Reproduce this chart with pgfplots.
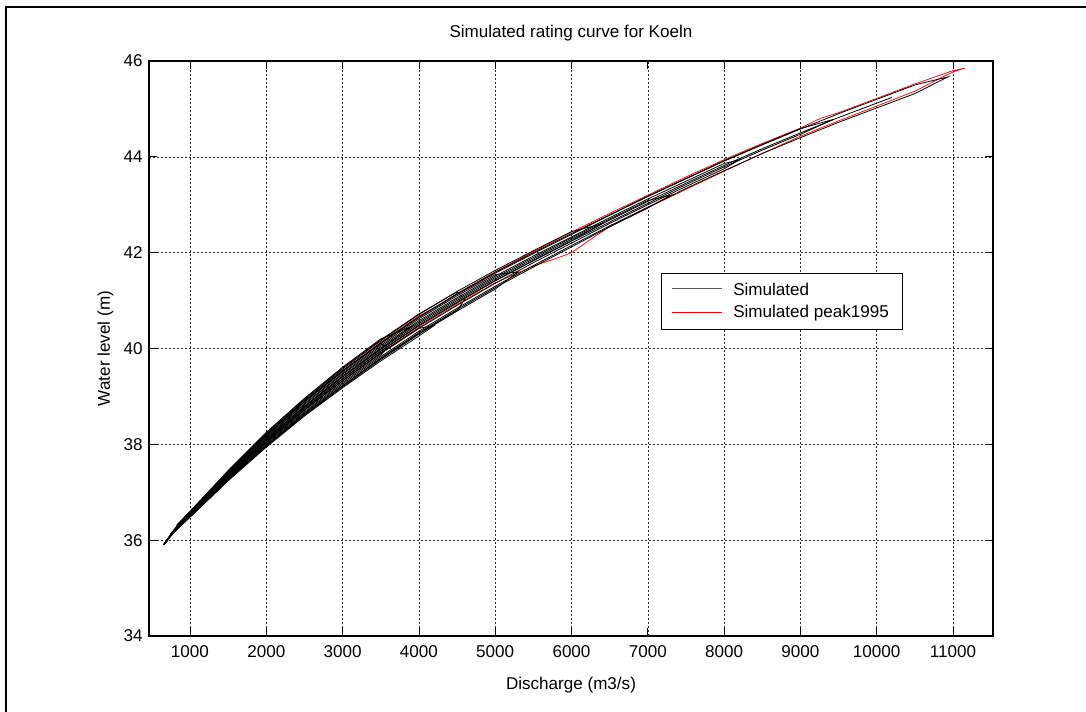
\documentclass[border=0pt]{standalone}
\usepackage{fontspec}
\setmainfont{Liberation Sans}
\usepackage{pgfplots}
\pgfplotsset{compat=1.18}
\newcommand{\cf}{\fontsize{12.8}{15}\selectfont}
\definecolor{mred}{RGB}{255,0,0}
\begin{document}
\begin{tikzpicture}
\useasboundingbox (-111.75pt,-56.25pt) rectangle (702.75pt,477pt);
\begin{axis}[
  scale only axis,
  width=633pt, height=431.25pt,
  xmin=463, xmax=11524, ymin=34, ymax=46,
  xtick={1000,2000,...,11000},
  ytick={34,36,...,46},
  /pgf/number format/assume math mode=true,
  scaled x ticks=false,
  xticklabel style={/pgf/number format/1000 sep={}},
  tick align=inside,
  major tick length=6.3pt,
  tick style={black, line width=0.5pt},
  axis line style={line width=1.1pt},
  grid=major,
  major grid style={black!85, line width=0.45pt, dash pattern=on 1.3pt off 1.7pt},
  tick label style={font=\cf},
  xticklabel style={anchor=base, yshift=-15.75pt, inner sep=0pt},
  yticklabel style={anchor=east, inner sep=0pt, xshift=-4.5pt},
  title={Simulated rating curve for Koeln},
  title style={font=\cf, at={(0.5,1)}, anchor=base, yshift=11.25pt},
  xlabel={Discharge (m3/s)},
  xlabel style={font=\cf, at={(rel axis cs:0.5,0)}, anchor=base, yshift=-39.75pt},
  ylabel={Water level (m)},
  ylabel style={font=\cf, at={([xshift=-29.25pt]rel axis cs:0,0.5)}, rotate=0, anchor=base},
  black line/.style={black, line width=0.6pt, forget plot},
]
% Simulated peak1995 (red), drawn first
\addplot[mred, line width=0.55pt, forget plot] coordinates {
(659,35.91)(740,36.09)(830,36.26)(1000,36.52)(1200,36.84)(1500,37.32)(2000,38.05)(2500,38.72)(3000,39.33)(3500,39.91)(4000,40.44)(4500,40.92)(5000,41.37)(5500,41.72)(5800,41.88)(6000,42.00)(6300,42.33)(6500,42.54)(7000,42.94)(7500,43.32)(8000,43.70)(8500,44.07)(9000,44.43)(9500,44.75)(10000,45.06)(10500,45.37)(10917,45.71)(11050,45.80)(11157,45.85)
(11000,45.80)(10500,45.52)(10000,45.22)(9500,44.92)(9257,44.80)(9000,44.60)(8500,44.28)(8000,43.94)(7500,43.58)(7000,43.20)(6500,42.82)(6000,42.43)(5500,42.02)(5000,41.60)(4500,41.15)(4316,40.95)(4000,40.68)(3500,40.13)(3000,39.54)(2500,38.90)(2000,38.20)(1500,37.42)(1200,36.91)(1000,36.58)(830,36.30)
};
% Simulated (black)
\addplot[black line] coordinates {
(659,35.90)(740,36.08)(830,36.24)(1000,36.50)(1200,36.81)(1500,37.28)(2000,38.00)(2500,38.66)(3000,39.26)(3500,39.83)(4000,40.36)(4500,40.84)(5000,41.30)(5500,41.73)(6000,42.15)(6500,42.56)(7000,42.95)(7500,43.34)(8000,43.71)(8500,44.07)(9000,44.40)(9500,44.72)(10000,45.02)(10500,45.32)(10935,45.67)
(10500,45.50)(10000,45.20)(9500,44.90)(9000,44.58)(8500,44.25)(8000,43.91)(7500,43.54)(7000,43.17)(6500,42.78)(6000,42.38)(5500,41.98)(5000,41.57)(4500,41.13)(4000,40.65)(3500,40.10)(3000,39.51)(2500,38.88)(2000,38.18)(1500,37.41)(1200,36.90)(1000,36.57)(830,36.29)
};
\addplot[black line] coordinates {
(659,35.92)(740,36.09)(830,36.26)(1000,36.53)(1200,36.85)(1500,37.33)(2000,38.07)(2500,38.74)(3000,39.36)(3500,39.94)(4000,40.47)(4500,40.95)(5000,41.41)(5500,41.83)(6000,42.24)(6500,42.64)(7000,43.03)(7500,43.42)(8000,43.79)(8500,44.14)(9000,44.47)(9430,44.78)
(9000,44.59)(8500,44.26)(8000,43.92)(7500,43.55)(7000,43.18)(6500,42.79)(6000,42.40)(5500,42.00)(5000,41.59)(4500,41.14)(4000,40.66)(3500,40.12)(3000,39.53)(2500,38.89)(2000,38.19)(1500,37.41)(1200,36.90)(1000,36.58)(830,36.30)(740,36.12)
};
\addplot[black line] coordinates {
(659,35.91)(740,36.09)(830,36.25)(1000,36.52)(1200,36.83)(1500,37.31)(2000,38.04)(2500,38.71)(3000,39.32)(3500,39.89)(4000,40.42)(4500,40.90)(5000,41.36)(5500,41.79)(6000,42.20)(6500,42.61)(7000,43.00)(7500,43.38)(8000,43.75)(8200,43.94)
(8000,43.86)(7500,43.49)(7000,43.12)(6500,42.73)(6000,42.33)(5500,41.93)(5000,41.51)(4500,41.06)(4000,40.58)(3500,40.04)(3000,39.46)(2500,38.83)(2000,38.14)(1500,37.38)(1200,36.88)(1000,36.56)(830,36.28)
};
\addplot[black line] coordinates {
(659,35.90)(740,36.08)(830,36.23)(1000,36.49)(1200,36.80)(1500,37.27)(2000,37.98)(2500,38.64)(3000,39.23)(3500,39.80)(4000,40.33)(4500,40.81)(5000,41.27)(5500,41.70)(6000,42.12)(6500,42.54)(7000,42.93)(7300,43.20)
(7000,43.09)(6500,42.70)(6000,42.31)(5500,41.90)(5000,41.48)(4500,41.03)(4000,40.55)(3500,40.01)(3000,39.43)(2500,38.80)(2000,38.12)(1500,37.36)(1200,36.87)(1000,36.55)
};
\addplot[black line] coordinates {
(659,35.92)(740,36.10)(830,36.26)(1000,36.53)(1200,36.85)(1500,37.34)(2000,38.08)(2500,38.76)(3000,39.37)(3500,39.95)(4000,40.49)(4500,40.97)(5000,41.42)(5500,41.84)(6000,42.25)(6400,42.60)
(6000,42.44)(5500,42.04)(5000,41.63)(4500,41.19)(4000,40.71)(3500,40.16)(3000,39.57)(2500,38.92)(2000,38.22)(1500,37.43)(1200,36.92)(1000,36.59)(830,36.31)
};
\addplot[black line] coordinates {
(659,35.90)(740,36.07)(830,36.23)(1000,36.48)(1200,36.79)(1500,37.25)(2000,37.96)(2500,38.61)(3000,39.20)(3500,39.77)(4000,40.30)(4500,40.78)(5000,41.24)(5300,41.60)
(5000,41.54)(4500,41.10)(4000,40.62)(3500,40.07)(3000,39.48)(2500,38.85)(2000,38.16)(1500,37.39)(1200,36.89)(1000,36.56)
};
\addplot[black line] coordinates {
(659,35.90)(740,36.07)(830,36.23)(1000,36.49)(1200,36.80)(1500,37.26)(2000,37.97)(2500,38.62)(3000,39.22)(3500,39.79)(4000,40.31)(4500,40.79)(4600,41.02)
(4500,41.18)(4000,40.72)(3500,40.18)(3000,39.59)(2500,38.94)(2000,38.24)(1500,37.45)(1200,36.93)(1000,36.60)(830,36.31)
};
\addplot[black line] coordinates {
(659,35.91)(740,36.08)(830,36.25)(1000,36.51)(1200,36.82)(1500,37.29)(2000,38.02)(2500,38.68)(3000,39.29)(3500,39.86)(3580,40.02)
(3500,40.10)(3000,39.54)(2500,38.90)(2000,38.20)(1500,37.42)(1200,36.91)(1000,36.58)(830,36.30)
};
\addplot[black line] coordinates {
(659,35.92)(740,36.10)(830,36.27)(1000,36.54)(1200,36.86)(1500,37.35)(2000,38.10)(2500,38.78)(3000,39.40)(3500,39.98)(4000,40.52)(4500,41.00)(5000,41.45)(5500,41.87)(6000,42.28)(6500,42.68)(7000,43.07)(7500,43.45)(8000,43.82)(8500,44.17)(9000,44.50)(9500,44.82)(10000,45.12)(10200,45.24)
};
\addplot[black line] coordinates {
(659,35.90)(740,36.07)(830,36.22)(1000,36.48)(1200,36.78)(1500,37.24)(2000,37.94)(2500,38.59)(3000,39.18)(3500,39.74)(4000,40.26)(4200,40.48)
(4000,40.42)(3500,39.91)(3000,39.33)(2500,38.72)(2000,38.05)(1500,37.31)(1200,36.83)(1000,36.52)
};
\addplot[black line] coordinates {
(659,35.92)(740,36.10)(830,36.27)(1000,36.54)(1200,36.87)(1500,37.36)(2000,38.11)(2500,38.79)(3000,39.41)(3500,39.99)(3900,40.46)
(3500,40.20)(3000,39.61)(2500,38.96)(2000,38.25)(1500,37.45)(1200,36.94)(1000,36.60)(830,36.32)
};
\end{axis}
% legend (drawn after the axis, in picture coordinates; axis south west is at the origin)
\draw[line width=0.6pt, draw=black, fill=white] (384pt,230.25pt) rectangle (564.75pt,272.25pt);
\node[anchor=west, inner sep=0pt] at (392.25pt,260.25pt) {\textcolor{black!65}{\rule[-0.375pt]{37.5pt}{0.75pt}}};
\node[anchor=west, inner sep=0pt] at (392.25pt,242.25pt) {\textcolor{mred}{\rule[-0.375pt]{37.5pt}{0.75pt}}};
\node[font=\cf, anchor=west, inner sep=0pt] at (438pt,260.25pt) {Simulated};
\node[font=\cf, anchor=west, inner sep=0pt] at (438pt,242.25pt) {Simulated peak1995};
\draw[line width=1.6pt] (-107.25pt,-60pt) -- (-107.25pt,471.75pt) -- (706pt,471.75pt);
\end{tikzpicture}
\end{document}
